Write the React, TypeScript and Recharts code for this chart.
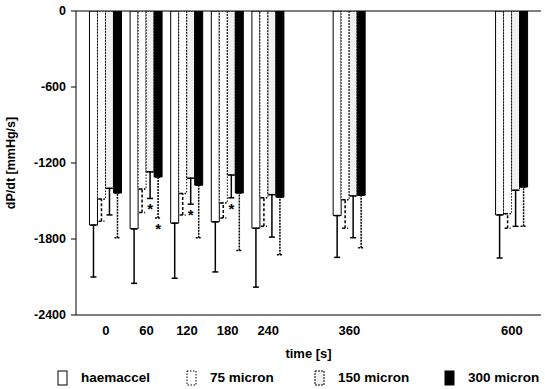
import React from 'react';
import { ComposedChart, Bar, XAxis, YAxis, ErrorBar, ReferenceLine, Legend, LabelList, Label } from 'recharts';

// time points (s)
const times = [0, 60, 120, 180, 240, 360, 600];

// mean dP/dt values (mmHg/s)
const haemaccel = [-1690, -1720, -1675, -1665, -1715, -1615, -1610];
const micron75 = [-1485, -1405, -1440, -1515, -1475, -1490, -1600];
const micron150 = [-1400, -1270, -1320, -1295, -1450, -1460, -1415];
const micron300 = [-1437, -1310, -1375, -1437, -1470, -1455, -1390];

// lower ends of the error bars (mmHg/s)
const haemaccelEnd = [-2100, -2150, -2110, -2060, -2180, -1945, -1950];
const micron75End = [-1660, -1590, -1610, -1635, -1700, -1715, -1715];
const micron150End = [-1610, -1480, -1525, -1475, -1785, -1790, -1700];
const micron300End = [-1790, -1635, -1790, -1890, -1925, -1870, -1700];

// significance marks (time points)
const sig150 = [60, 120, 180];
const sig300 = [60];

const yTicks = [0, -600, -1200, -1800, -2400];
const xTicks = times;

const seriesNames = ['haemaccel', '75 micron', '150 micron', '300 micron'];

const FONT = '"Liberation Sans", Arial, Helvetica, sans-serif';

const data = times.map((t, i) => ({
  time: t,
  haemaccel: haemaccel[i],
  haemaccelErr: [haemaccel[i] - haemaccelEnd[i], 0],
  micron75: micron75[i],
  micron75Err: [micron75[i] - micron75End[i], 0],
  micron150: micron150[i],
  micron150Err: [micron150[i] - micron150End[i], 0],
  micron300: micron300[i],
  micron300Err: [micron300[i] - micron300End[i], 0],
}));

const starRenderer = (vals: number[], ends: number[], sig: number[]) => (props: any) => {
  const { index, viewBox } = props;
  if (index == null || !viewBox) return null;
  if (!sig.includes(times[index])) return null;
  const { x, y, width, height } = viewBox;
  const top = Math.min(y, y + height);
  const pxPerUnit = Math.abs(height) / Math.abs(vals[index]);
  const endY = top + Math.abs(ends[index]) * pxPerUnit;
  return (
    <text x={x + width / 2} y={endY + 16} textAnchor="middle" fontSize={15} fontWeight="bold" fontFamily={FONT} fill="#000">
      *
    </text>
  );
};

const legendStyles = [
  { fill: '#fff', stroke: '#000', dash: undefined },
  { fill: '#fff', stroke: '#000', dash: '1.5 1.5' },
  { fill: '#f0f0f0', stroke: '#000', dash: '2 1' },
  { fill: '#000', stroke: '#000', dash: undefined },
];
const legendIconX = [57, 186, 314, 444];

const LegendContent = () => (
  <div style={{ position: 'relative', width: 545, height: 28, fontFamily: FONT }}>
    {seriesNames.map((name, i) => (
      <div key={name} style={{ position: 'absolute', left: legendIconX[i], top: 9, display: 'flex', alignItems: 'center', whiteSpace: 'nowrap' }}>
        <svg width={12} height={16} style={{ display: 'block' }}>
          <rect x={1} y={1} width={9} height={14} fill={legendStyles[i].fill} stroke={legendStyles[i].stroke} strokeDasharray={legendStyles[i].dash} />
        </svg>
        <span style={{ marginLeft: 12, fontSize: 13.5, fontWeight: 'bold', color: '#000', lineHeight: '16px' }}>{name}</span>
      </div>
    ))}
  </div>
);

export default function App() {
  return (
    <div style={{ position: 'absolute', left: 0, top: 0, width: 545, height: 389, background: '#fff', overflow: 'hidden' }}>
      <ComposedChart
        width={545}
        height={389}
        data={data}
        margin={{ top: 11, right: 4, bottom: 0, left: 0 }}
        barGap={0}
      >
        <XAxis
          type="number"
          dataKey="time"
          domain={[-44, 643]}
          ticks={xTicks}
          tickLine={false}
          axisLine={{ stroke: '#000', strokeWidth: 1 }}
          tick={{ fill: '#000', fontSize: 13, fontWeight: 'bold', fontFamily: FONT }}
          tickMargin={5}
          height={46}
          allowDataOverflow
        >
          <Label value="time [s]" position="insideBottom" offset={3} style={{ fill: '#000', fontSize: 13, fontWeight: 'bold', fontFamily: FONT }} />
        </XAxis>
        <YAxis
          type="number"
          domain={[-2400, 0]}
          ticks={yTicks}
          width={76}
          tickSize={5}
          tickMargin={5}
          tickLine={{ stroke: '#000' }}
          axisLine={{ stroke: '#000', strokeWidth: 1 }}
          tick={{ fill: '#000', fontSize: 12.5, fontWeight: 'bold', fontFamily: FONT }}
          allowDataOverflow
        >
          <Label
            value="dP/dt [mmHg/s]"
            angle={-90}
            position="insideLeft"
            offset={11}
            style={{ fill: '#000', fontSize: 12.5, fontWeight: 'bold', fontFamily: FONT, textAnchor: 'middle' }}
          />
        </YAxis>
        <ReferenceLine y={0} stroke="#000" strokeWidth={1} />
        <Legend verticalAlign="bottom" content={() => <LegendContent />} wrapperStyle={{ left: 0, width: 545, height: 28 }} />
        <Bar dataKey="haemaccel" name="haemaccel" barSize={8} fill="#fff" stroke="#000" strokeWidth={1} isAnimationActive={false}>
          <ErrorBar dataKey="haemaccelErr" direction="y" width={3} stroke="#000" strokeWidth={1.5} />
        </Bar>
        <Bar dataKey="micron75" name="75 micron" barSize={8} fill="#fff" stroke="#000" strokeWidth={1} strokeDasharray="1.5 1.5" isAnimationActive={false}>
          <ErrorBar dataKey="micron75Err" direction="y" width={3} stroke="#000" strokeWidth={1.5} strokeDasharray="3 2" />
        </Bar>
        <Bar dataKey="micron150" name="150 micron" barSize={8} fill="#f0f0f0" stroke="#000" strokeWidth={1} strokeDasharray="2 1" isAnimationActive={false}>
          <ErrorBar dataKey="micron150Err" direction="y" width={3} stroke="#000" strokeWidth={1.5} />
          <LabelList content={starRenderer(micron150, micron150End, sig150)} />
        </Bar>
        <Bar dataKey="micron300" name="300 micron" barSize={8} fill="#000" stroke="#000" strokeWidth={1} isAnimationActive={false}>
          <ErrorBar dataKey="micron300Err" direction="y" width={3} stroke="#000" strokeWidth={1.5} strokeDasharray="2 1" />
          <LabelList content={starRenderer(micron300, micron300End, sig300)} />
        </Bar>
      </ComposedChart>
    </div>
  );
}
